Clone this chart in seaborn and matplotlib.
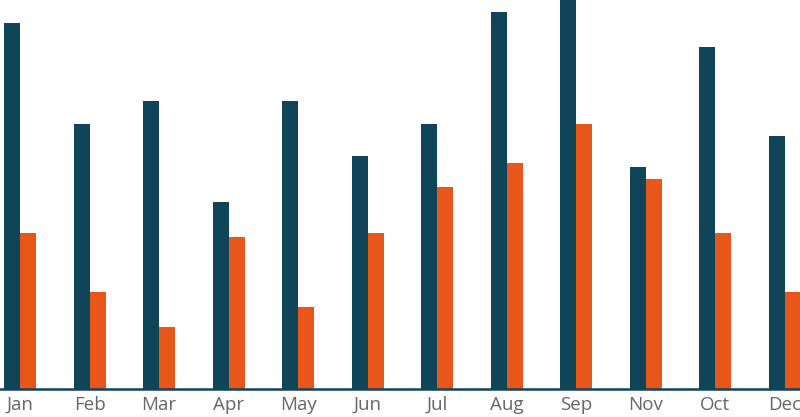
import numpy as np
import pandas as pd
import matplotlib
matplotlib.use("Agg")
import matplotlib.pyplot as plt
import seaborn as sns

months = ["Jan", "Feb", "Mar", "Apr", "May", "Jun", "Jul", "Aug", "Sep", "Nov", "Oct", "Dec"]
series_a = [94, 68, 74, 48, 74, 60, 68, 97, 100, 57, 88, 65]
series_b = [40, 25, 16, 39, 21, 40, 52, 58, 68, 54, 40, 25]

df = pd.DataFrame({
    "month": months * 2,
    "value": series_a + series_b,
    "series": ["A"] * len(months) + ["B"] * len(months),
})

sns.set_style("white")
plt.rcParams["font.family"] = ["Open Sans", "DejaVu Sans"]

fig = plt.figure(figsize=(8, 4.17), dpi=100)
ax = fig.add_axes([0, 0.067, 1, 0.933])

sns.barplot(data=df, x="month", y="value", hue="series", order=months,
            palette=["#0f4459", "#e8561a"], width=0.46, gap=0,
            saturation=1, legend=False, linewidth=0, ax=ax)

ax.set_xlim(-0.29, 11.22)
ax.set_ylim(0, 100)
ax.set_xlabel("")
ax.set_ylabel("")
ax.set_yticks([])
ax.tick_params(axis="x", length=0, pad=5, labelsize=13.5, labelcolor="#666666")
for s in ["top", "left", "right"]:
    ax.spines[s].set_visible(False)
ax.spines["bottom"].set_color("#0f4459")
ax.spines["bottom"].set_linewidth(1.8)

fig.savefig("out.png", dpi=100)
